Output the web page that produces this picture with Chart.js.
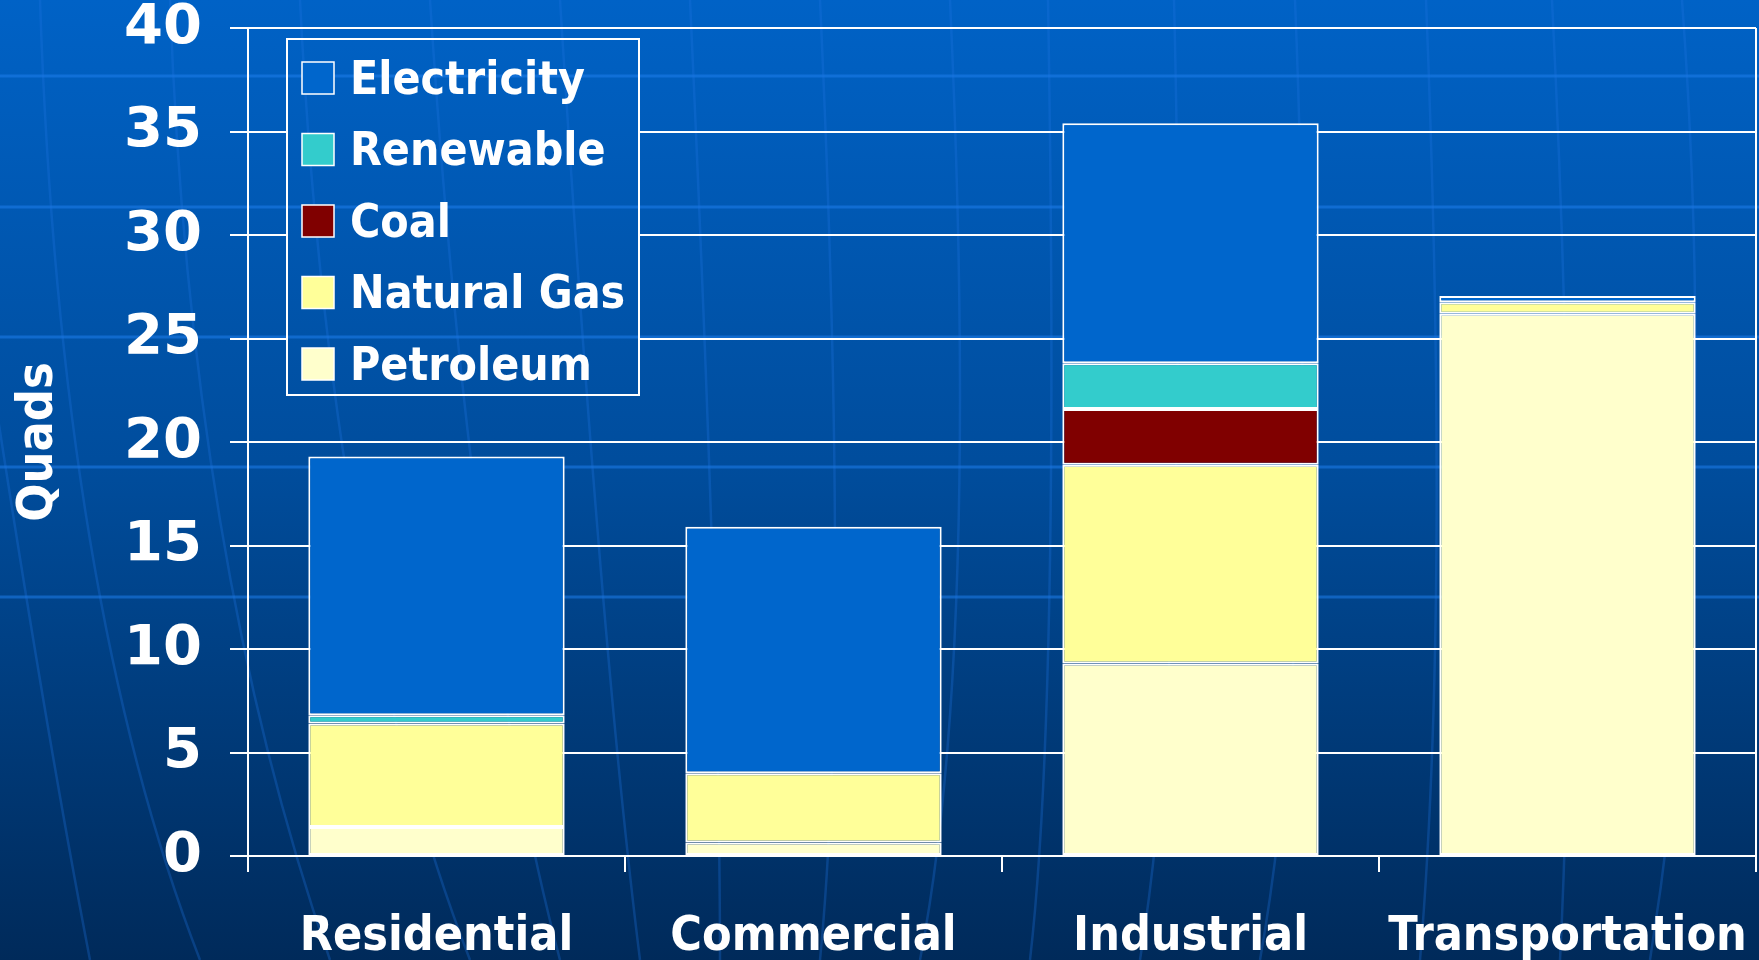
<!DOCTYPE html>
<html>
<head>
<meta charset="utf-8">
<script src="https://cdn.jsdelivr.net/npm/chart.js@4/dist/chart.umd.min.js"></script>
<style>
html,body{margin:0;padding:0;background:#003a78;overflow:hidden;}
#wrap{position:relative;width:1759px;height:960px;}
canvas{display:block;}
</style>
</head>
<body>
<div id="wrap"><canvas id="c" width="1759" height="960"></canvas></div>
<script>
// ---- data ----
const categories = ['Residential', 'Commercial', 'Industrial', 'Transportation'];
const petroleum   = [1.4, 0.65, 9.3, 26.2];
const naturalGas  = [5.0, 3.35, 9.6, 0.55];
const coal        = [0, 0, 2.7, 0];
const renewable   = [0.4, 0, 2.2, 0];
const electricity = [12.5, 11.9, 11.6, 0.3];
const seriesNames = ['Petroleum', 'Natural Gas', 'Coal', 'Renewable', 'Electricity'];
const seriesData  = [petroleum, naturalGas, coal, renewable, electricity];
const seriesColors = ['#FFFFCC', '#FFFF99', '#800000', '#33CCCC', '#0066CC'];
const yMin = 0, yMax = 40, yStep = 5;
const yTitle = 'Quads';

// ---- background painter (gradient + faint globe grid) ----
function paintBackground(ctx, w, h) {
  const g = ctx.createLinearGradient(0, 0, 0, h);
  g.addColorStop(0, '#0062C6');
  g.addColorStop(0.5, '#004C9B');
  g.addColorStop(1, '#002A5A');
  ctx.fillStyle = g;
  ctx.fillRect(0, 0, w, h);
  ctx.save();
  ctx.strokeStyle = 'rgba(30,125,235,0.55)';
  ctx.lineWidth = 3;
  [76, 207, 337, 467, 597].forEach(y => {
    ctx.beginPath(); ctx.moveTo(0, y); ctx.lineTo(w, y); ctx.stroke();
  });
  ctx.strokeStyle = 'rgba(30,115,225,0.3)';
  ctx.lineWidth = 2.5;
  const curves = [
    [[-20, 300], [40, 700], [90, 960]],
    [[40, 0], [60, 600], [200, 960]],
    [[170, 0], [190, 560], [330, 960]],
    [[300, 0], [330, 600], [470, 960]],
    [[430, 0], [470, 620], [560, 960]],
    [[560, 0], [600, 640], [640, 960]],
    [[690, 0], [720, 650], [720, 960]],
    [[820, 0], [850, 650], [820, 960]],
    [[950, 0], [980, 650], [920, 960]],
    [[1048, 0], [1060, 700], [1030, 960]],
    [[1174, 0], [1190, 650], [1140, 960]],
    [[1295, 0], [1320, 620], [1260, 960]],
    [[1426, 0], [1450, 600], [1420, 960]],
    [[1552, 0], [1580, 560], [1560, 960]],
    [[1682, 0], [1720, 520], [1650, 960]]
  ];
  curves.forEach(c => {
    ctx.beginPath();
    ctx.moveTo(c[0][0], c[0][1]);
    ctx.quadraticCurveTo(c[1][0], c[1][1], c[2][0], c[2][1]);
    ctx.stroke();
  });
  ctx.restore();
}

const bgPlugin = {
  id: 'bg',
  beforeDraw(chart) {
    paintBackground(chart.ctx, chart.width, chart.height);
  }
};

const legendPlugin = {
  id: 'boxLegend',
  afterDatasetsDraw(chart) {
    const ctx = chart.ctx;
    const a = chart.chartArea;
    const x = a.left + 39, y = a.top + 11, w = 352, h = 356;
    ctx.save();
    ctx.beginPath(); ctx.rect(x, y, w, h); ctx.clip();
    paintBackground(ctx, chart.width, chart.height);
    ctx.restore();
    ctx.save();
    ctx.strokeStyle = '#ffffff';
    ctx.lineWidth = 2;
    ctx.strokeRect(x, y, w, h);
    const order = chart.data.datasets.map((d, i) => i).reverse();
    ctx.font = 'bold 46px "DejaVu Sans Condensed", "DejaVu Sans"';
    ctx.textBaseline = 'middle';
    ctx.textAlign = 'left';
    order.forEach((di, k) => {
      const ds = chart.data.datasets[di];
      const cy = y + 39 + k * 71.5;
      ctx.fillStyle = ds.backgroundColor;
      ctx.fillRect(x + 15, cy - 16, 32, 32);
      ctx.lineWidth = 1.5;
      ctx.strokeStyle = '#ffffff';
      ctx.strokeRect(x + 15, cy - 16, 32, 32);
      ctx.fillStyle = '#ffffff';
      ctx.fillText(ds.label, x + 63, cy + 4);
    });
    ctx.restore();
  }
};

const datasets = seriesNames.map((name, i) => ({
  label: name,
  data: seriesData[i].map(v => (v === 0 ? null : v)),
  backgroundColor: seriesColors[i],
  borderColor: '#ffffff',
  borderWidth: 2,
  borderSkipped: false,
  barPercentage: 0.68,
  categoryPercentage: 1.0
}));

new Chart(document.getElementById('c'), {
  type: 'bar',
  data: { labels: categories, datasets },
  options: {
    responsive: false,
    animation: false,
    events: [],
    layout: { padding: { top: 28, right: 3, left: 0, bottom: 0 } },
    plugins: { legend: { display: false }, tooltip: { enabled: false } },
    scales: {
      x: {
        stacked: true,
        offset: true,
        grid: {
          offset: true,
          drawOnChartArea: true,
          color: c => (c.type === 'scale' ? '#ffffff' : 'rgba(0,0,0,0)'),
          tickColor: '#ffffff',
          lineWidth: 2,
          tickLength: 16
        },
        border: { color: '#ffffff', width: 2 },
        ticks: {
          color: '#ffffff',
          padding: 37,
          font: { family: '"DejaVu Sans Condensed", "DejaVu Sans"', weight: 'bold', size: 48, lineHeight: 1.2 }
        },
        afterFit(s) { s.height = 104; s.paddingLeft = 0; s.paddingRight = 0; }
      },
      y: {
        stacked: true,
        min: yMin,
        max: yMax,
        ticks: {
          stepSize: yStep,
          color: '#ffffff',
          padding: 28,
          font: { family: '"DejaVu Sans"', weight: 'bold', size: 56, lineHeight: 1 }
        },
        grid: { color: '#ffffff', lineWidth: 2, tickLength: 18 },
        border: { color: '#ffffff', width: 2 },
        title: {
          display: true,
          text: yTitle,
          color: '#ffffff',
          padding: { top: 9, bottom: 0 },
          font: { family: '"DejaVu Sans Condensed", "DejaVu Sans"', weight: 'bold', size: 50, lineHeight: 1.2 }
        },
        afterFit(s) { s.width = 248; s.paddingTop = 0; s.paddingBottom = 0; }
      }
    }
  },
  plugins: [bgPlugin, legendPlugin]
});
</script>
</body>
</html>
